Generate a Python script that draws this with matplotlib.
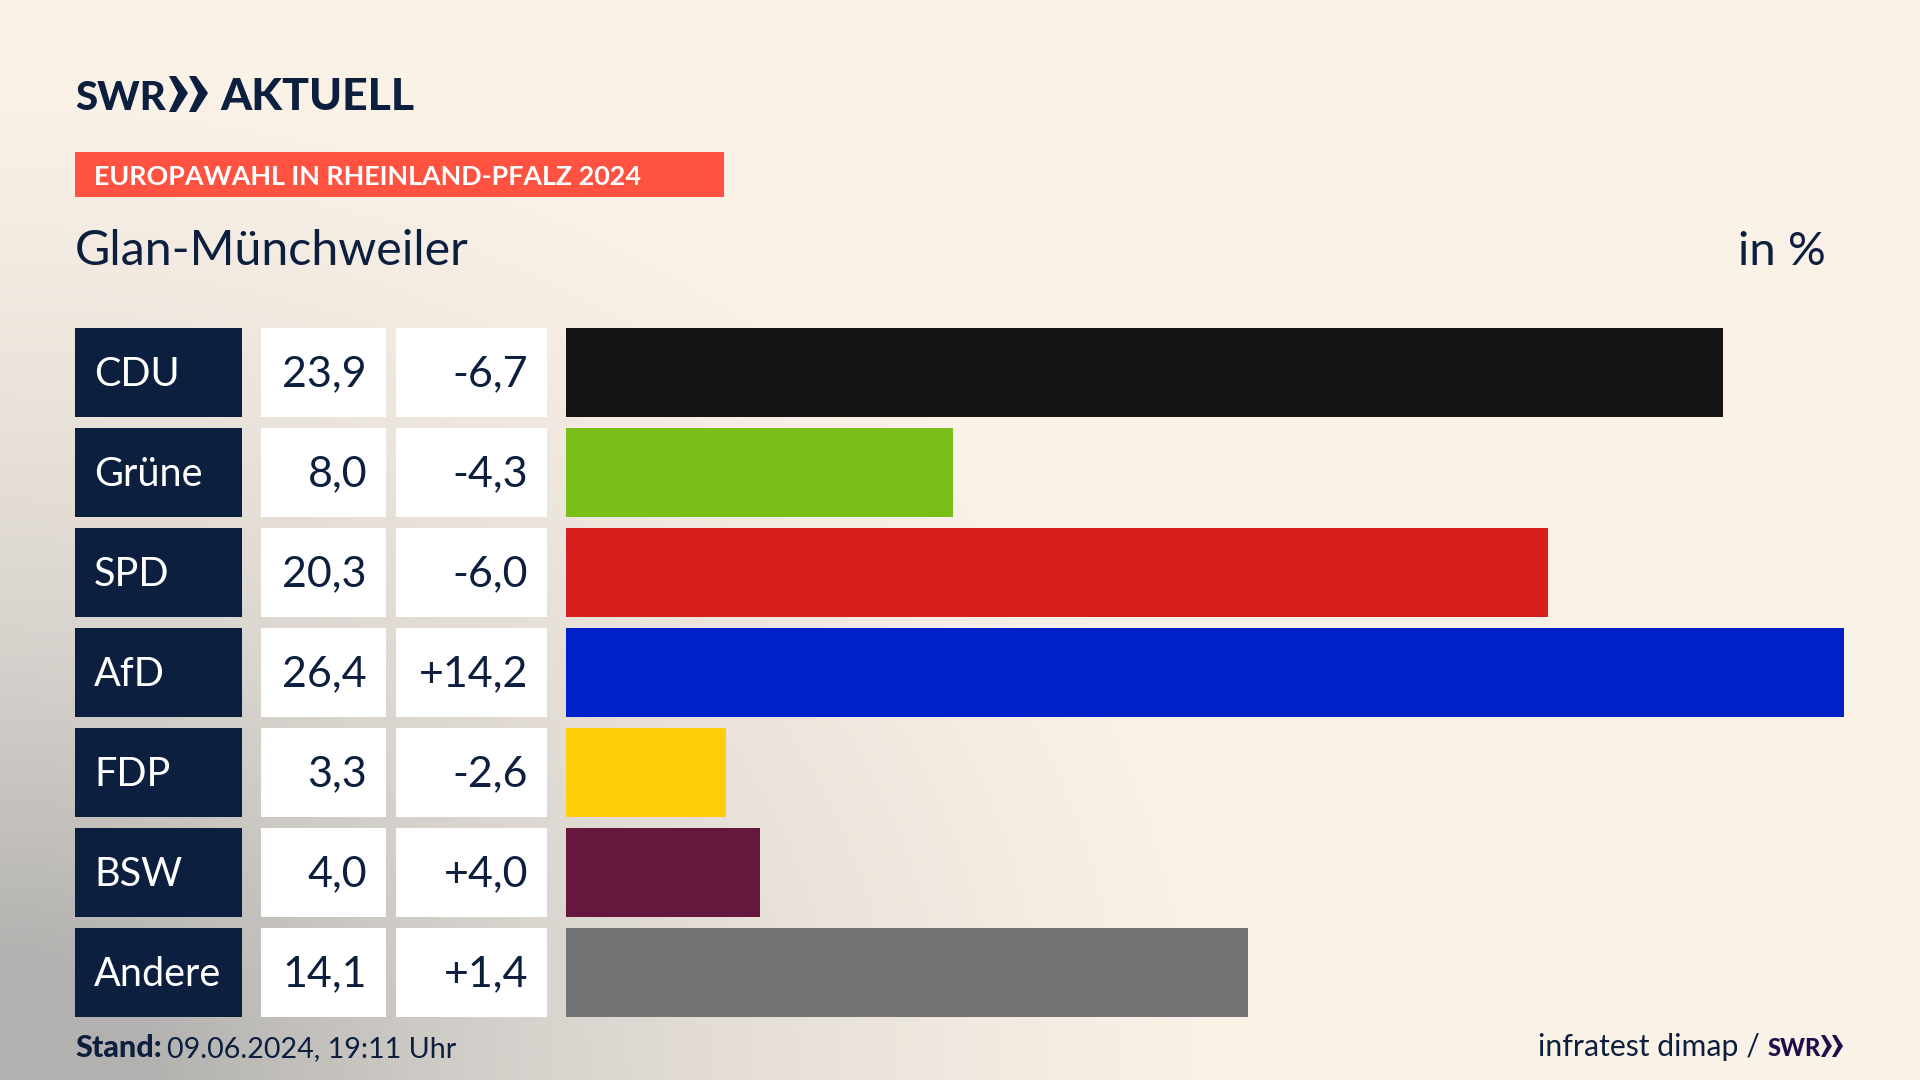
import numpy as np
import matplotlib
matplotlib.use("Agg")
import matplotlib.pyplot as plt
from matplotlib.colors import LinearSegmentedColormap
from matplotlib.patches import Rectangle, Polygon

plt.rcParams['font.family'] = ['Lato', 'DejaVu Sans']

parties = ["CDU", "Grüne", "SPD", "AfD", "FDP", "BSW", "Andere"]
shares = [23.9, 8.0, 20.3, 26.4, 3.3, 4.0, 14.1]
changes = [-6.7, -4.3, -6.0, 14.2, -2.6, 4.0, 1.4]
bar_colors = ["#141414", "#7ABE19", "#D81F1E", "#0020C8", "#FFCD0A", "#66173C", "#717375"]

navy = "#0C1F3F"
cream = "#FAF1E7"


def fmt(v, sign=False):
    s = f"{v:+.1f}" if sign else f"{v:.1f}"
    return s.replace(".", ",")


fig = plt.figure(figsize=(19.2, 10.8), dpi=100)

# background, greyish corner bottom left
bg = fig.add_axes([0, 0, 1, 1])
yy, xx = np.mgrid[0:1080:270j, 0:1920:480j]
t = 1 - np.sqrt((xx / 1250) ** 2 + ((1080 - yy) / 1020) ** 2)
t = np.clip(t, 0, 1) ** 1.4
cmap = LinearSegmentedColormap.from_list("bg", [cream, "#DAD5CF", "#B2B1AF"])
bg.imshow(t, cmap=cmap, vmin=0, vmax=0.85, aspect="auto", extent=[0, 1920, 1080, 0])
bg.set_xlim(0, 1920)
bg.set_ylim(1080, 0)
bg.axis("off")

# header
bg.text(75, 110, "SWR", fontsize=29, fontweight="black", color=navy, va="baseline")
bg.text(220, 110, "AKTUELL", fontsize=32, fontweight="black", color=navy, va="baseline")
for x0 in [169, 189]:
    bg.add_patch(Polygon([(x0, 76), (x0 + 7, 76), (x0 + 19, 93), (x0 + 7, 112), (x0, 112),
                          (x0 + 9, 93)], closed=True, fc=navy, ec="none"))

bg.add_patch(Rectangle((75, 152), 649, 45, fc="#FF5240", ec="none"))
bg.text(94, 185, "EUROPAWAHL IN RHEINLAND-PFALZ 2024", fontsize=19.4, fontweight="bold",
        color="white", va="baseline")
bg.text(75, 265, "Glan-Münchweiler", fontsize=34.8, color=navy, va="baseline")
bg.text(1826, 265, "in %", fontsize=34, color=navy, va="baseline", ha="right")

# table cells left of the bars
for i, party in enumerate(parties):
    top = 328 + i * 100
    mid = top + 58.5
    bg.add_patch(Rectangle((75, top), 167, 88.5, fc=navy, ec="none"))
    bg.add_patch(Rectangle((261, top), 125, 88.5, fc="white", ec="none"))
    bg.add_patch(Rectangle((396, top), 151, 88.5, fc="white", ec="none"))
    bg.text(94, mid, party, fontsize=28.5, color="white", va="baseline")
    bg.text(367, mid, fmt(shares[i]), fontsize=31, color=navy, va="baseline", ha="right")
    bg.text(528, mid, fmt(changes[i], sign=True), fontsize=31, color=navy, va="baseline", ha="right")

# bars
ax = fig.add_axes([566 / 1920, 1 - 1016.5 / 1080, 1279 / 1920, 688.5 / 1080])
ax.patch.set_alpha(0)
ax.barh(range(len(parties)), shares, height=0.885, color=bar_colors)
ax.set_xlim(0, 26.43)
ax.set_ylim(6.4425, -0.4425)
ax.axis("off")

# footer
bg.text(75, 1057, "Stand:", fontsize=22, fontweight="black", color=navy, va="baseline")
bg.text(167, 1057, "09.06.2024, 19:11 Uhr", fontsize=20.6, color=navy, va="baseline")
bg.text(1760, 1056, "infratest dimap /", fontsize=21.8, color=navy, va="baseline", ha="right")
bg.text(1768, 1056, "SWR", fontsize=17, fontweight="black", color="#1E0F4A", va="baseline")
for x0 in [1821, 1832]:
    bg.add_patch(Polygon([(x0, 1035), (x0 + 4, 1035), (x0 + 11, 1046), (x0 + 4, 1057), (x0, 1057),
                          (x0 + 6, 1046)], closed=True, fc="#1E0F4A", ec="none"))

fig.savefig("out.png", dpi=100)
